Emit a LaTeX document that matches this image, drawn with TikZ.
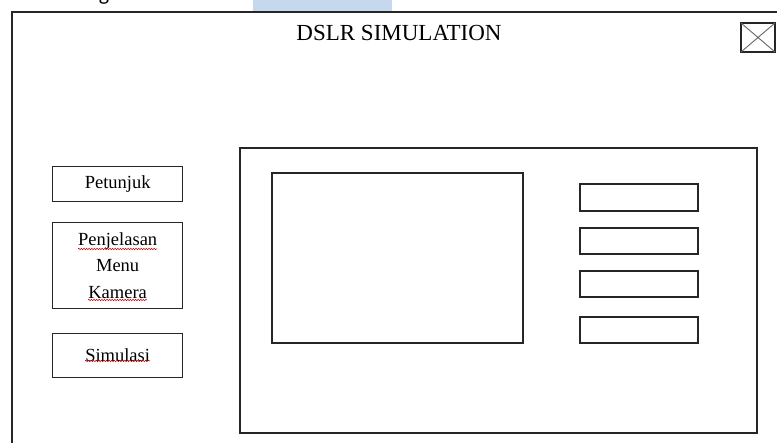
\documentclass[tikz,border=0pt]{standalone}
\usepackage{fontspec}
\setmainfont{Liberation Serif}
\newfontfamily\uifont{Carlito}
\usetikzlibrary{decorations.pathmorphing}

\definecolor{selblue}{RGB}{198,216,238}
\tikzset{
	frame/.style={draw=black!85, line width=1.3pt},
	menubtn/.style={frame, minimum width=130pt, minimum height=#1, inner sep=0pt, align=center, font=\fontsize{18.5}{26.5}\selectfont},
	spell/.style={red!75!black, line width=0.5pt, decorate, decoration={snake, amplitude=0.7pt, segment length=2.6pt}},
}

\begin{document}
\begin{tikzpicture}[x=1pt, y=-1pt]
	\useasboundingbox (0,0) rectangle (777,443);
	% window
	\fill[selblue] (253,0) rectangle (392,11);
	\node[font=\uifont\fontsize{22}{22}\selectfont, anchor=base, inner sep=0pt] (tab) at (104,1) {g};
	\draw[frame] (12,443) -- (12,12) -- (777,12);
	\node[font=\fontsize{23}{23}\selectfont] (title) at (399,33) {DSLR SIMULATION};
	\draw[frame, line width=1.2pt] (741,23) rectangle (775,52);
	\draw[black!60, line width=0.9pt] (741,23) -- (775,52) (741,52) -- (775,23);
	% menu
	\node[menubtn=35pt, anchor=north west] (petunjuk) at (52,166) {Petunjuk};
	\node[menubtn=86pt, anchor=north west] (penjelasan) at (52,222) {Penjelasan\\Menu\\Kamera};
	\node[menubtn=44pt, anchor=north west] (simulasi) at (52,333) {Simulasi};
	\draw[spell] (78,249) -- (157,249);
	\draw[spell] (88,300) -- (147,300);
	\draw[spell] (85,361) -- (150,361);
	% panel
	\draw[frame] (240,148) rectangle (757,433);
	\draw[frame] (272,173) rectangle (523,343);
	\foreach \t/\b in {184/211, 228/254, 271/297, 317/343}
		\draw[frame] (580,\t) rectangle (698,\b);
\end{tikzpicture}
\end{document}
